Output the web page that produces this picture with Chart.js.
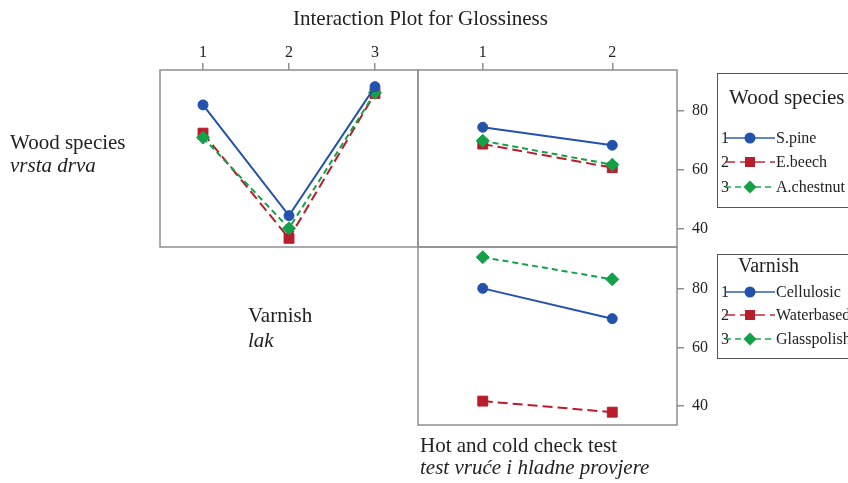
<!DOCTYPE html>
<html>
<head>
<meta charset="utf-8">
<script src="https://cdn.jsdelivr.net/npm/chart.js@4.4.1/dist/chart.umd.min.js"></script>
<style>
  body { margin: 0; background: #fff; }
  #wrap { position: relative; width: 848px; height: 483px; overflow: hidden; font-family: 'Liberation Serif', 'Times New Roman', serif; color: #222; }
  #wrap canvas { position: absolute; left: 0; top: 0; }
  .lbl { position: absolute; font-size: 21px; line-height: 21px; white-space: nowrap; }
  .it { font-style: italic; }
  .box { position: absolute; border: 1px solid #555; }
  .row { position: absolute; left: 721px; height: 20px; display: flex; align-items: center; font-size: 16px; white-space: nowrap; }
  .row .num { width: 7px; }
  .row svg { margin-left: -3px; }
  .row .name { margin-left: 1px; }
</style>
</head>
<body>
<div id="wrap">
  <canvas id="topLeft" width="848" height="483"></canvas>
  <canvas id="topRight" width="848" height="483"></canvas>
  <canvas id="bottomRight" width="848" height="483"></canvas>

  <div class="lbl" style="left:293px; top:8px;">Interaction Plot for Glossiness</div>
  <div class="lbl" style="left:10px; top:132px;">Wood species</div>
  <div class="lbl it" style="left:10px; top:155px;">vrsta drva</div>
  <div class="lbl" style="left:248px; top:305px;">Varnish</div>
  <div class="lbl it" style="left:248px; top:330px;">lak</div>
  <div class="lbl" style="left:420px; top:435px;">Hot and cold check test</div>
  <div class="lbl it" style="left:420px; top:457px;">test vruće i hladne provjere</div>

  <div class="box" style="left:717px; top:73px; width:150px; height:133px;"></div>
  <div class="lbl" style="left:729px; top:87px;">Wood species</div>
  <div class="box" style="left:717px; top:254px; width:150px; height:103px;"></div>
  <div class="lbl" style="left:738px; top:255px; font-size:20px;">Varnish</div>
  <div id="legends"></div>
</div>

<script>
// x categories
const varnishLabels = ['1', '2', '3'];
const testLabels = ['1', '2'];
const yTicks = [40, 60, 80];

const woodNames = ['S.pine', 'E.beech', 'A.chestnut'];
const varnishNames = ['Cellulosic', 'Waterbased', 'Glasspolish'];

// glossiness means: wood species x varnish
const pineByVarnish = [81.9, 44.3, 88.1];
const beechByVarnish = [72.3, 36.6, 85.8];
const chestnutByVarnish = [70.8, 40.0, 86.0];

// wood species x hot/cold check test
const pineByTest = [74.3, 68.2];
const beechByTest = [68.6, 60.6];
const chestnutByTest = [69.7, 61.6];

// varnish x hot/cold check test
const cellulosicByTest = [80.3, 69.9];
const waterbasedByTest = [41.6, 37.8];
const glasspolishByTest = [91.0, 83.4];

// one look per level (1, 2, 3)
const looks = [
    { color: '#2352ad', dash: [], point: 'circle', radius: 5, order: 1 },
    { color: '#b81d2b', dash: [10, 5], point: 'rect', radius: 7, order: 3 },
    { color: '#13a046', dash: [6, 4], point: 'rectRot', radius: 6.5, order: 2 }
];

const frameColor = '#8f8f8f';

Chart.defaults.font.family = "'Liberation Serif', 'Times New Roman', serif";
Chart.defaults.color = '#222';

// draws the grey box round each panel
const framePlugin = {
    id: 'frame',
    beforeDatasetsDraw(chart) {
        const a = chart.chartArea;
        const ctx = chart.ctx;
        ctx.save();
        ctx.strokeStyle = frameColor;
        ctx.lineWidth = 1.5;
        ctx.strokeRect(a.left, a.top, a.right - a.left, a.bottom - a.top);
        ctx.restore();
    }
};

function makeDatasets(names, values) {
    return values.map((data, i) => ({
        label: names[i],
        data: data,
        borderColor: looks[i].color,
        backgroundColor: looks[i].color,
        borderWidth: 2,
        borderDash: looks[i].dash,
        pointStyle: looks[i].point,
        pointRadius: looks[i].radius,
        pointBorderWidth: 1,
        order: looks[i].order,
        tension: 0
    }));
}

function makeChart(id, labels, names, values, o) {
    return new Chart(document.getElementById(id), {
        type: 'line',
        data: { labels: labels, datasets: makeDatasets(names, values) },
        options: {
            responsive: false,
            animation: false,
            events: [],
            layout: { padding: o.padding },
            plugins: { legend: { display: false }, tooltip: { enabled: false } },
            scales: {
                x: {
                    type: 'category',
                    offset: true,
                    position: 'top',
                    display: o.showX,
                    grid: { drawOnChartArea: false, drawTicks: true, tickLength: 7, color: frameColor, lineWidth: 1.5 },
                    border: { display: false },
                    ticks: { font: { size: 16 }, padding: 1, color: '#222' },
                    afterFit(scale) { scale.height = o.showX ? 40 : 0; }
                },
                y: {
                    min: o.yMin,
                    max: o.yMax,
                    position: 'right',
                    display: o.showY,
                    grid: { drawOnChartArea: false, drawTicks: true, tickLength: 7, color: frameColor, lineWidth: 1.5 },
                    border: { display: false },
                    ticks: { font: { size: 16 }, padding: 8, color: '#222' },
                    afterBuildTicks(scale) { scale.ticks = yTicks.map(v => ({ value: v })); },
                    afterFit(scale) { scale.width = o.showY ? 45 : 0; }
                }
            }
        },
        plugins: [framePlugin]
    });
}

makeChart('topLeft', varnishLabels, woodNames,
    [pineByVarnish, beechByVarnish, chestnutByVarnish],
    { padding: { left: 160, right: 430, top: 30, bottom: 236 }, showX: true, showY: false, yMin: 33.65, yMax: 93.75 });

makeChart('topRight', testLabels, woodNames,
    [pineByTest, beechByTest, chestnutByTest],
    { padding: { left: 418, right: 126, top: 30, bottom: 236 }, showX: true, showY: true, yMin: 33.65, yMax: 93.75 });

makeChart('bottomRight', testLabels, varnishNames,
    [cellulosicByTest, waterbasedByTest, glasspolishByTest],
    { padding: { left: 418, right: 126, top: 247, bottom: 58 }, showX: false, showY: true, yMin: 33.4, yMax: 94.5 });

// legend rows: number, line with marker, name
function marker(l) {
    if (l.point === 'circle') return `<circle cx="25" cy="10" r="5.5" fill="${l.color}"/>`;
    if (l.point === 'rect') return `<rect x="20" y="5" width="10" height="10" fill="${l.color}"/>`;
    return `<polygon points="25,3.5 31.5,10 25,16.5 18.5,10" fill="${l.color}"/>`;
}

function legendRows(names, tops) {
    return names.map((name, i) => {
        const l = looks[i];
        return `<div class="row" style="top:${tops[i]}px;">` +
            `<span class="num">${i + 1}</span>` +
            `<svg width="50" height="20"><line x1="0" y1="10" x2="50" y2="10" stroke="${l.color}" stroke-opacity="0.7" stroke-width="2" stroke-dasharray="${l.dash.join(' ')}"/>${marker(l)}</svg>` +
            `<span class="name">${name}</span></div>`;
    }).join('');
}

document.getElementById('legends').innerHTML =
    legendRows(woodNames, [128, 152, 177]) + legendRows(varnishNames, [282, 305, 329]);
</script>
</body>
</html>
